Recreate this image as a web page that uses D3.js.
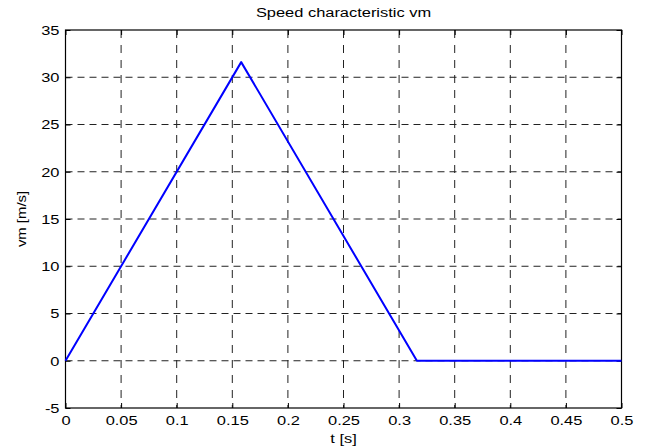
<!DOCTYPE html>
<html>
<head>
<meta charset="utf-8">
<script src="https://cdn.jsdelivr.net/npm/d3@7"></script>
<style>
  body { margin: 0; background: #fff; }
  text { font-family: "Liberation Sans", Arial, Helvetica, sans-serif; fill: #000; }
</style>
</head>
<body>
<div id="viz"></div>
<script>
// speed profile vm(t)
var tValues = [0, 0.158, 0.316, 0.5];
var vmValues = [0, 31.6, 0, 0];

var xTicks = [0, 0.05, 0.1, 0.15, 0.2, 0.25, 0.3, 0.35, 0.4, 0.45, 0.5];
var xTickLabels = ["0", "0.05", "0.1", "0.15", "0.2", "0.25", "0.3", "0.35", "0.4", "0.45", "0.5"];
var yTicks = [-5, 0, 5, 10, 15, 20, 25, 30, 35];
var yTickLabels = ["-5", "0", "5", "10", "15", "20", "25", "30", "35"];

var W = 650, H = 448;
var LEFT = 65.5, RIGHT = 621.5, TOP = 30, BOTTOM = 408;
var STRETCH = 1.37; // the picture's text is wider than it is tall
var FONT = 12;

var svg = d3.select("#viz")
  .append("svg")
  .attr("width", W)
  .attr("height", H);

svg.append("rect")
  .attr("width", W)
  .attr("height", H)
  .style("fill", "#fff");

var x = d3.scaleLinear().domain([0, 0.5]).range([LEFT, RIGHT]);
var y = d3.scaleLinear().domain([-5, 35]).range([BOTTOM, TOP]);

// grid
svg.append("g")
  .selectAll("line")
  .data(xTicks.slice(1, -1))
  .enter()
  .append("line")
  .attr("x1", function(d) { return x(d); })
  .attr("x2", function(d) { return x(d); })
  .attr("y1", TOP)
  .attr("y2", BOTTOM)
  .style("stroke", "#222")
  .style("stroke-width", 1)
  .style("stroke-dasharray", "8,7");

svg.append("g")
  .selectAll("line")
  .data(yTicks.slice(1, -1))
  .enter()
  .append("line")
  .attr("x1", LEFT)
  .attr("x2", RIGHT)
  .attr("y1", function(d) { return y(d); })
  .attr("y2", function(d) { return y(d); })
  .style("stroke", "#222")
  .style("stroke-width", 1)
  .style("stroke-dasharray", "7,5");

// axes, ticks pointing inward like matlab
var xAxis = d3.axisBottom(x).tickValues(xTicks).tickSizeInner(-5).tickSizeOuter(0)
  .tickFormat(function(d, i) { return xTickLabels[i]; });
var yAxis = d3.axisLeft(y).tickValues(yTicks).tickSizeInner(-5).tickSizeOuter(0)
  .tickFormat(function(d, i) { return yTickLabels[i]; });

var gx = svg.append("g").attr("transform", "translate(0," + BOTTOM + ")").call(xAxis);
var gy = svg.append("g").attr("transform", "translate(" + LEFT + ",0)").call(yAxis);

svg.append("g").attr("transform", "translate(0," + TOP + ")")
  .call(d3.axisTop(x).tickValues(xTicks).tickSizeInner(-5).tickSizeOuter(0).tickFormat(""));
svg.append("g").attr("transform", "translate(" + RIGHT + ",0)")
  .call(d3.axisRight(y).tickValues(yTicks).tickSizeInner(-5).tickSizeOuter(0).tickFormat(""));

svg.selectAll(".domain").remove();
svg.selectAll(".tick line").style("stroke", "#000");

gx.selectAll(".tick text")
  .attr("x", 0)
  .attr("y", 17)
  .attr("dy", null)
  .attr("transform", "scale(" + STRETCH + ",1)")
  .style("font-size", FONT + "px");

gy.selectAll(".tick text")
  .attr("x", -6 / STRETCH)
  .attr("dy", "0.36em")
  .attr("transform", "scale(" + STRETCH + ",1)")
  .style("font-size", FONT + "px");

svg.selectAll(".tick text").attr("font-family", null).style("fill", "#000");

// box
svg.append("rect")
  .attr("x", LEFT)
  .attr("y", TOP)
  .attr("width", RIGHT - LEFT)
  .attr("height", BOTTOM - TOP)
  .style("fill", "none")
  .style("stroke", "#000")
  .style("stroke-width", 1.2);

// the curve
var line = d3.line()
  .x(function(d, i) { return x(tValues[i]); })
  .y(function(d) { return y(d); });

svg.append("path")
  .datum(vmValues)
  .attr("d", line)
  .style("fill", "none")
  .style("stroke", "#0000ff")
  .style("stroke-width", 2)
  .style("stroke-linejoin", "round");

// labels
function stretchedText(cx, cy, rot, sx, sy, str) {
  svg.append("text")
    .attr("transform", "translate(" + cx + "," + cy + ") rotate(" + rot + ") scale(" + sx + "," + sy + ")")
    .attr("text-anchor", "middle")
    .style("font-size", FONT + "px")
    .text(str);
}

stretchedText((LEFT + RIGHT) / 2, 17, 0, STRETCH, 1, "Speed characteristic vm");
stretchedText((LEFT + RIGHT) / 2, 443, 0, STRETCH, 1, "t [s]");
stretchedText(25.5, (TOP + BOTTOM) / 2, -90, 1.24, 1, "vm [m/s]");
</script>
</body>
</html>
